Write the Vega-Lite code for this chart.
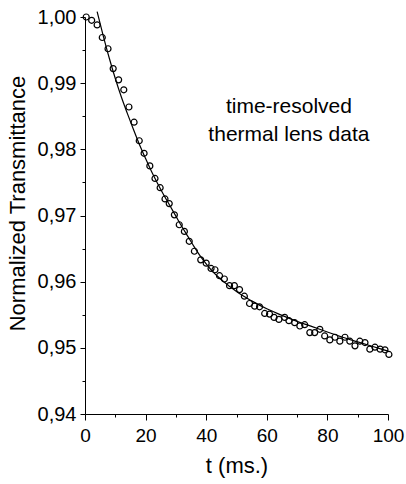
{
  "$schema": "https://vega.github.io/schema/vega-lite/v6.json",
  "width": 303,
  "height": 397,
  "autosize": "none",
  "padding": {"left": 85, "top": 17, "right": 18, "bottom": 70},
  "background": "white",
  "config": {
    "view": {"stroke": null},
    "font": "Liberation Sans",
    "axis": {
      "domainColor": "black",
      "tickColor": "black",
      "labelColor": "black",
      "titleColor": "black",
      "labelFont": "Liberation Sans",
      "titleFont": "Liberation Sans",
      "titleFontWeight": "normal",
      "grid": false
    }
  },
  "datasets": {
    "points": [
      {"t": 0.4, "v": 1.0000}, {"t": 2.2, "v": 0.9995}, {"t": 4.0, "v": 0.9988}, {"t": 5.7, "v": 0.9969},
      {"t": 7.6, "v": 0.9952}, {"t": 9.3, "v": 0.9922}, {"t": 11.1, "v": 0.9905}, {"t": 12.8, "v": 0.9890},
      {"t": 14.5, "v": 0.9864}, {"t": 16.2, "v": 0.9841}, {"t": 17.9, "v": 0.9813}, {"t": 19.5, "v": 0.9794},
      {"t": 21.4, "v": 0.9775}, {"t": 23.1, "v": 0.9756}, {"t": 24.8, "v": 0.9742}, {"t": 26.4, "v": 0.9725},
      {"t": 27.8, "v": 0.9718}, {"t": 29.5, "v": 0.9701}, {"t": 31.1, "v": 0.9686}, {"t": 32.8, "v": 0.9676},
      {"t": 34.4, "v": 0.9661}, {"t": 36.1, "v": 0.9646}, {"t": 38.2, "v": 0.9633}, {"t": 40.0, "v": 0.9628},
      {"t": 41.6, "v": 0.9620}, {"t": 42.9, "v": 0.9618}, {"t": 44.4, "v": 0.9609}, {"t": 46.0, "v": 0.9604},
      {"t": 47.7, "v": 0.9594}, {"t": 49.3, "v": 0.9594}, {"t": 51.0, "v": 0.9588}, {"t": 52.6, "v": 0.9578},
      {"t": 54.3, "v": 0.9567}, {"t": 56.0, "v": 0.9563}, {"t": 57.6, "v": 0.9562}, {"t": 59.3, "v": 0.9552},
      {"t": 60.9, "v": 0.9551}, {"t": 62.4, "v": 0.9546}, {"t": 64.0, "v": 0.9543}, {"t": 65.9, "v": 0.9546},
      {"t": 67.3, "v": 0.9541}, {"t": 69.2, "v": 0.9538}, {"t": 70.9, "v": 0.9533}, {"t": 72.5, "v": 0.9535},
      {"t": 74.2, "v": 0.9523}, {"t": 75.8, "v": 0.9523}, {"t": 77.5, "v": 0.9528}, {"t": 79.1, "v": 0.9518},
      {"t": 80.8, "v": 0.9512}, {"t": 82.5, "v": 0.9516}, {"t": 84.1, "v": 0.9510}, {"t": 85.8, "v": 0.9516},
      {"t": 87.4, "v": 0.9510}, {"t": 89.1, "v": 0.9503}, {"t": 90.7, "v": 0.9510}, {"t": 92.4, "v": 0.9508},
      {"t": 94.0, "v": 0.9498}, {"t": 95.7, "v": 0.9501}, {"t": 97.4, "v": 0.9498}, {"t": 99.0, "v": 0.9497},
      {"t": 100.3, "v": 0.9490}
    ],
    "fit": [
      {"t": 4, "v": 1.0008}, {"t": 6, "v": 0.9972}, {"t": 8, "v": 0.9938}, {"t": 10, "v": 0.9907},
      {"t": 12, "v": 0.9879}, {"t": 14, "v": 0.9854}, {"t": 16, "v": 0.9830}, {"t": 18, "v": 0.9807},
      {"t": 20, "v": 0.9786}, {"t": 22, "v": 0.9766}, {"t": 24, "v": 0.9748}, {"t": 26, "v": 0.9731},
      {"t": 28, "v": 0.9715}, {"t": 30, "v": 0.9699}, {"t": 32, "v": 0.9683}, {"t": 34, "v": 0.9668},
      {"t": 36, "v": 0.9653}, {"t": 38, "v": 0.9639}, {"t": 40, "v": 0.9627}, {"t": 42, "v": 0.9616},
      {"t": 44, "v": 0.9607}, {"t": 46, "v": 0.9599}, {"t": 48, "v": 0.9592}, {"t": 50, "v": 0.9585},
      {"t": 55, "v": 0.9571}, {"t": 60, "v": 0.9559}, {"t": 65, "v": 0.9549}, {"t": 70, "v": 0.9540},
      {"t": 75, "v": 0.9532}, {"t": 80, "v": 0.9524}, {"t": 85, "v": 0.9516}, {"t": 90, "v": 0.9509},
      {"t": 95, "v": 0.9502}, {"t": 100, "v": 0.9495}
    ],
    "note": [
      {"t": 67.3, "v": 0.9864, "label": ["time-resolved", "thermal lens data"]}
    ]
  },
  "encoding": {
    "x": {
      "field": "t", "type": "quantitative",
      "scale": {"domain": [0, 100], "nice": false, "zero": false},
      "axis": {
        "title": "t (ms.)",
        "values": [0, 10, 20, 30, 40, 50, 60, 70, 80, 90, 100],
        "labelExpr": "datum.value % 20 === 0 ? format(datum.value, 'd') : ''",
        "labelFontSize": 19,
        "labelPadding": 6,
        "labelFlush": false,
        "tickSize": {"condition": {"test": "datum.value % 20 === 0", "value": 6}, "value": 3},
        "titleFontSize": 22,
        "titlePadding": 10
      }
    },
    "y": {
      "field": "v", "type": "quantitative",
      "scale": {"domain": [0.94, 1.0], "nice": false, "zero": false},
      "axis": {
        "title": "Normalized Transmittance",
        "values": [0.94, 0.945, 0.95, 0.955, 0.96, 0.965, 0.97, 0.975, 0.98, 0.985, 0.99, 0.995, 1.0],
        "labelExpr": "abs(datum.value * 100 - round(datum.value * 100)) < 0.01 ? replace(format(datum.value, '.2f'), '.', ',') : ''",
        "labelFontSize": 20,
        "labelPadding": 4,
        "labelFlush": false,
        "tickSize": {"condition": {"test": "abs(datum.value * 100 - round(datum.value * 100)) < 0.01", "value": 5}, "value": 3},
        "titleFontSize": 22,
        "titlePadding": 8,
        "titleY": 186
      }
    }
  },
  "layer": [
    {
      "data": {"name": "fit"},
      "mark": {"type": "line", "color": "black", "strokeWidth": 1.2, "interpolate": "monotone", "clip": false},
      "encoding": {}
    },
    {
      "data": {"name": "points"},
      "mark": {"type": "point", "shape": "circle", "filled": false, "stroke": "black", "strokeWidth": 1.2, "size": 36, "opacity": 1},
      "encoding": {}
    },
    {
      "data": {"name": "note"},
      "mark": {"type": "text", "align": "center", "baseline": "middle", "fontSize": 21, "lineHeight": 28, "color": "black", "font": "Liberation Sans"},
      "encoding": {"text": {"field": "label"}}
    }
  ]
}
